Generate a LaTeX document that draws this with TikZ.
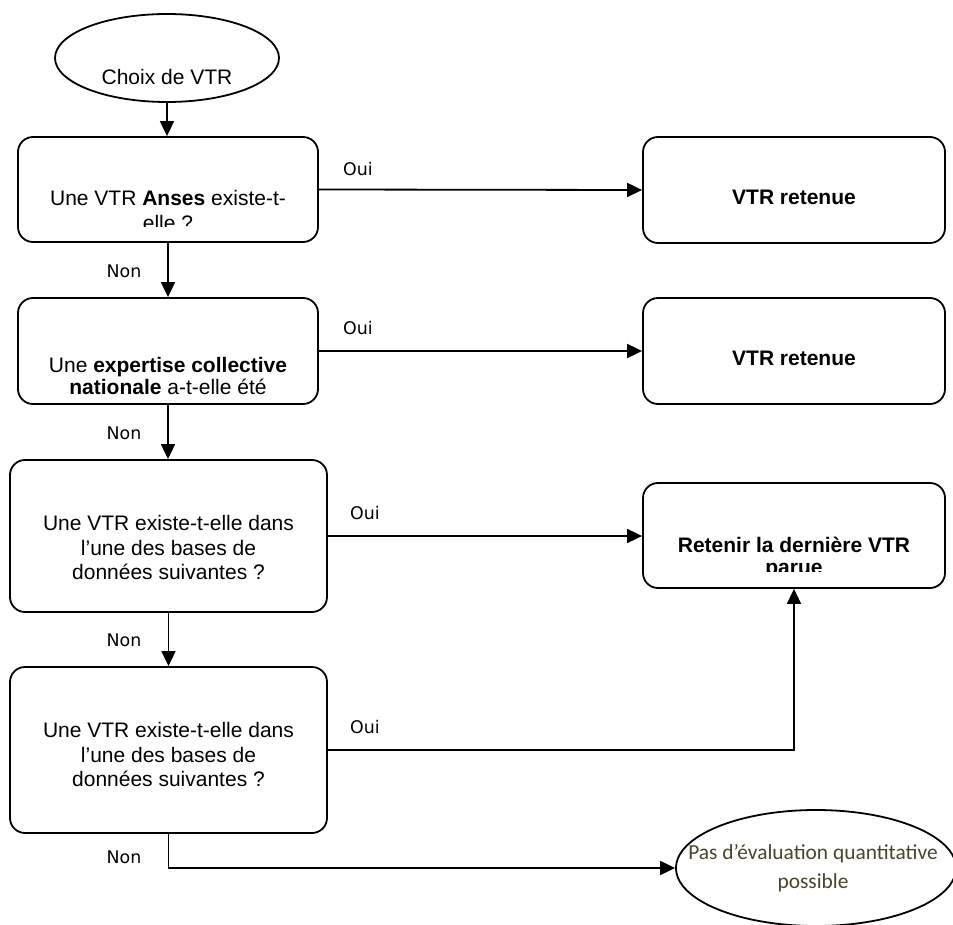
\documentclass[tikz,border=0pt]{standalone}
\usepackage{fontspec}
\setmainfont{Liberation Sans}
\newfontfamily\ouinonfont{DejaVu Sans}
\newfontfamily\finfont{Carlito}
\usetikzlibrary{arrows.meta,positioning,shapes.geometric}
\definecolor{finbrown}{HTML}{4A452A}

\begin{document}
\begin{tikzpicture}[
  x=0.5pt, y=-0.5pt,
  box/.style={rectangle, draw, rounded corners=7.5pt, line width=0.9pt, inner sep=0pt},
  term/.style={ellipse, draw, line width=0.9pt, inner sep=0pt},
  txt/.style={anchor=north, inner sep=0pt, align=center, font=\fontsize{10.5}{11}\selectfont},
  txtwide/.style={txt, font=\fontsize{10.5}{12.25}\selectfont},
  arrow/.style={-{Triangle[length=7.5pt, width=7pt]}, line width=0.9pt},
  ouinon/.style={font=\ouinonfont\fontsize{8.7}{10}\selectfont, inner sep=0pt}
]
\useasboundingbox (0,0) rectangle (953,925);

% debut
\node[term, minimum width=112pt, minimum height=44pt] (start) at (167,58) {};
\node[font=\fontsize{10.5}{11}\selectfont, inner sep=0pt, anchor=base] (starttext) at (167,84.5) {Choix de VTR};

% questions (colonne de gauche)
\node[box, minimum width=150pt, minimum height=52.5pt] (q1) at (168,189.5) {};
\node[box, minimum width=150pt, minimum height=53pt] (q2) at (168,351) {};
\node[box, minimum width=158.5pt, minimum height=76pt] (q3) at (168.5,536) {};
\node[box, minimum width=158.5pt, minimum height=83pt] (q4) at (168.5,750) {};

\begin{scope}
  \clip (0,0) rectangle (953,227);
  \node[txt, font=\fontsize{10.5}{12.5}\selectfont] (q1text) at (168,190) {Une VTR \textbf{Anses} existe-t-\\elle ?};
\end{scope}
\node[txt] (q2text) at (168,357) {Une \textbf{expertise collective}\\\textbf{nationale} a-t-elle été};
\node[txtwide] (q3text) at (168.5,515) {Une VTR existe-t-elle dans\\l’une des bases de\\données suivantes ?};
\node[txtwide] (q4text) at (168.5,722) {Une VTR existe-t-elle dans\\l’une des bases de\\données suivantes ?};

% resultats (colonne de droite)
\node[box, minimum width=151pt, minimum height=53pt] (r1) at (794,190) {};
\node[box, minimum width=151pt, minimum height=53pt] (r2) at (794,351) {};
\node[box, minimum width=151pt, minimum height=52.5pt] (r3) at (794,535.5) {};

\node[txt, font=\fontsize{10.5}{11}\selectfont\bfseries] (r1text) at (794,190) {VTR retenue};
\node[txt, font=\fontsize{10.5}{11}\selectfont\bfseries] (r2text) at (794,351) {VTR retenue};
\begin{scope}
  \clip (0,0) rectangle (953,571);
  \node[txt, font=\fontsize{10.5}{11}\selectfont\bfseries] (r3text) at (794,537) {Retenir la dernière VTR\\parue};
\end{scope}

% fin
\node[term, minimum width=140pt, minimum height=58pt] (stop) at (816,868) {};
\node[font=\finfont\fontsize{10.7}{14.5}\selectfont, text=finbrown, align=center, inner sep=0pt] (stoptext) at (813,868) {Pas d’évaluation quantitative\\possible};

% fleches
\draw[arrow] (start.south) -- (start.south |- q1.north);
\draw[arrow] (q1.east) -- (r1.west);
\draw[arrow] (q1.south) -- (q2.north);
\draw[arrow] (q2.east) -- (r2.west);
\draw[arrow] (q2.south) -- (q2.south |- q3.north);
\draw[arrow] (q3.east) -- (q3.east -| r3.west);
\draw[arrow] (q3.south) -- (q3.south |- q4.north);
\draw[arrow] (q4.east) -| (r3.south);
\draw[arrow] (q4.south) |- (stop.west);

% Oui / Non
\node[ouinon] (oui1) at (358,169) {Oui};
\node[ouinon] (oui2) at (358,328) {Oui};
\node[ouinon] (oui3) at (365,513) {Oui};
\node[ouinon] (oui4) at (365,727) {Oui};
\node[ouinon] (non1) at (124,271) {Non};
\node[ouinon] (non2) at (124,433) {Non};
\node[ouinon] (non3) at (124,640) {Non};
\node[ouinon] (non4) at (124,857) {Non};

\end{tikzpicture}
\end{document}
